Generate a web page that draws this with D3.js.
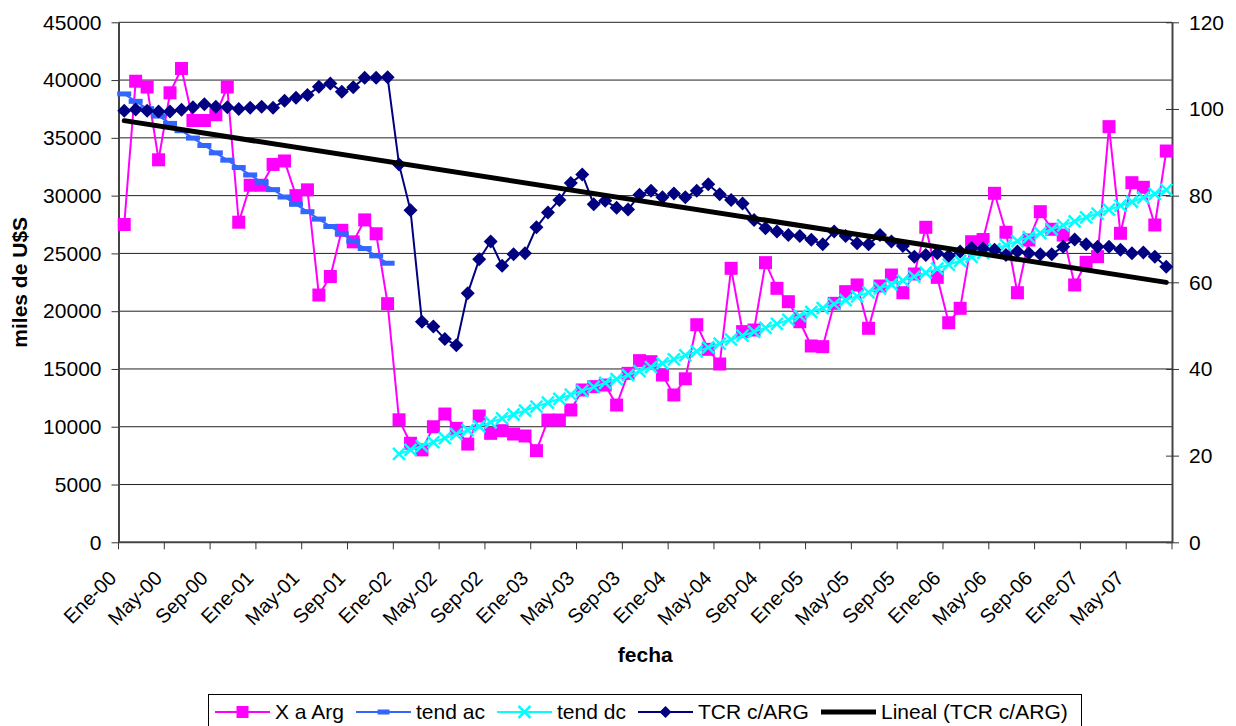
<!DOCTYPE html>
<html>
<head>
<meta charset="utf-8">
<script src="https://cdn.jsdelivr.net/npm/d3@7"></script>
<style>
  body { margin: 0; background: #fff; }
  text { font-family: "Liberation Sans", Arial, sans-serif; }
</style>
</head>
<body>
<svg id="chart" width="1236" height="726"></svg>
<script>
// etiquetas del eje x (cada 4 meses)
const tickLabels = ['Ene-00','May-00','Sep-00','Ene-01','May-01','Sep-01','Ene-02','May-02','Sep-02',
  'Ene-03','May-03','Sep-03','Ene-04','May-04','Sep-04','Ene-05','May-05','Sep-05',
  'Ene-06','May-06','Sep-06','Ene-07','May-07'];

// X a Arg (miles de U$S), ene-00 .. ago-07
const xArg = [27500, 39900, 39400, 33100, 38900, 41000, 36500, 36500, 37000, 39400,
  27700, 30900, 30900, 32700, 33000, 30000, 30500, 21400, 23000, 27000,
  26000, 27900, 26700, 20650, 10600, 8570, 8000, 10000, 11100, 9860,
  8500, 10930, 9430, 9660, 9370, 9200, 7930, 10580, 10580, 11450,
  13180, 13470, 13610, 11880, 14620, 15720, 15630, 14480, 12750, 14150,
  18830, 16700, 15430, 23710, 18230, 18370, 24200, 21980, 20820, 19090,
  16990, 16930, 20680, 21690, 22270, 18520, 22180, 23130, 21600, 23220,
  27260, 22930, 19000, 20250, 26010, 26200, 30200, 26830, 21600, 26160,
  28610, 27090, 26590, 22270, 24230, 24720, 35970, 26740, 31120, 30720,
  27460, 33860];

// tendencia antes de la crisis (desde ene-00)
const tendAc = [38800, 38160, 37530, 36890, 36250, 35620, 34980, 34340, 33700, 33070,
  32430, 31790, 31160, 30520, 29880, 29250, 28610, 27970, 27330, 26700,
  26060, 25420, 24790, 24150];

// tendencia despues de la crisis (desde ene-02)
const tendDcStart = 24;
const tendDc = [7650, 7990, 8330, 8670, 9010, 9360, 9700, 10040, 10380, 10720,
  11060, 11400, 11740, 12080, 12420, 12770, 13110, 13450, 13790, 14130,
  14470, 14810, 15150, 15490, 15830, 16180, 16520, 16860, 17200, 17540,
  17880, 18220, 18560, 18900, 19240, 19590, 19930, 20270, 20610, 20950,
  21290, 21630, 21970, 22310, 22650, 23000, 23340, 23680, 24020, 24360,
  24700, 25040, 25380, 25720, 26060, 26410, 26750, 27090, 27430, 27770,
  28110, 28450, 28790, 29130, 29470, 29820, 30160, 30500];

// TCR c/ARG (eje derecho)
const tcr = [99.6, 99.9, 99.6, 99.4, 99.4, 99.8, 100.4, 101.1, 100.5, 100.4,
  100.0, 100.3, 100.5, 100.3, 101.9, 102.6, 103.2, 105.1, 105.9, 104.0,
  105.0, 107.2, 107.2, 107.3, 87.2, 76.6, 50.9, 49.8, 46.9, 45.5,
  57.5, 65.3, 69.4, 63.8, 66.5, 66.7, 72.7, 76.1, 79.0, 82.9,
  84.9, 78.0, 78.8, 77.2, 76.8, 80.2, 81.1, 79.6, 80.5, 79.6,
  81.1, 82.6, 80.3, 79.0, 78.2, 74.4, 72.5, 71.7, 70.9, 70.7,
  69.8, 68.8, 71.7, 70.7, 69.0, 68.8, 70.9, 69.4, 68.4, 65.9,
  66.3, 66.7, 66.1, 67.1, 67.9, 67.8, 67.5, 66.3, 67.1, 66.7,
  66.5, 66.5, 68.2, 69.9, 68.8, 68.2, 68.2, 67.5, 66.7, 66.9,
  65.9, 63.6];

const plotLeft = 118.5, plotRight = 1172, plotTop = 22.3, plotBottom = 542.3;
const n = xArg.length;

const svg = d3.select('#chart');
svg.append('rect').attr('width', 1236).attr('height', 726).attr('fill', '#fff');

const x = d3.scaleLinear().domain([0, n]).range([plotLeft, plotRight]);
const y = d3.scaleLinear().domain([0, 45000]).range([plotBottom, plotTop]);
const y2 = d3.scaleLinear().domain([0, 120]).range([plotBottom, plotTop]);
const cx = i => x(i + 0.5);

// grid
svg.append('g').selectAll('line')
  .data(d3.range(5000, 45001, 5000))
  .enter().append('line')
  .attr('x1', plotLeft).attr('x2', plotRight)
  .attr('y1', d => y(d)).attr('y2', d => y(d))
  .attr('stroke', '#222').attr('stroke-width', 1);

// left axis
const yAxis = d3.axisLeft(y).tickValues(d3.range(0, 45001, 5000))
  .tickSize(7).tickSizeOuter(0).tickPadding(10).tickFormat(d3.format('d'));
svg.append('g').attr('transform', `translate(${plotLeft},0)`).call(yAxis)
  .call(g => g.select('.domain').attr('stroke', '#444').attr('stroke-width', 2))
  .call(g => g.selectAll('.tick line').attr('stroke', '#333'))
  .call(g => g.selectAll('text').attr('font-size', 21).attr('fill', '#000')
    .style('font-family', '"Liberation Sans", Arial, sans-serif'));

// right axis
const y2Axis = d3.axisRight(y2).tickValues(d3.range(0, 121, 20))
  .tickSize(7).tickSizeOuter(0).tickPadding(10);
svg.append('g').attr('transform', `translate(${plotRight},0)`).call(y2Axis)
  .call(g => g.select('.domain').attr('stroke', '#444').attr('stroke-width', 2))
  .call(g => g.selectAll('.tick line').attr('x1', -6).attr('stroke', '#333'))
  .call(g => g.selectAll('text').attr('font-size', 21).attr('fill', '#000')
    .style('font-family', '"Liberation Sans", Arial, sans-serif'));

// x axis
const xg = svg.append('g');
xg.append('line').attr('x1', plotLeft).attr('x2', plotRight).attr('y1', plotBottom).attr('y2', plotBottom)
  .attr('stroke', '#444').attr('stroke-width', 2);
xg.selectAll('.xt').data(d3.range(0, n + 1, 4)).enter().append('line')
  .attr('x1', d => x(d)).attr('x2', d => x(d))
  .attr('y1', plotBottom).attr('y2', plotBottom + 7)
  .attr('stroke', '#333');
xg.selectAll('.xl').data(tickLabels).enter().append('text')
  .attr('transform', (d, i) => `translate(${x(i * 4) - 1},${plotBottom + 37}) rotate(-45)`)
  .attr('text-anchor', 'end')
  .attr('font-size', 20)
  .text(d => d);

// axis titles
svg.append('text').attr('x', (plotLeft + plotRight) / 2).attr('y', 662)
  .attr('text-anchor', 'middle').attr('font-size', 21).attr('font-weight', 'bold')
  .text('fecha');
svg.append('text').attr('transform', `translate(27,${(plotTop + plotBottom) / 2}) rotate(-90)`)
  .attr('text-anchor', 'middle').attr('font-size', 21).attr('font-weight', 'bold')
  .text('miles de U$S');

// series
const line = d3.line();

svg.append('path')
  .attr('d', line(xArg.map((v, i) => [cx(i), y(v)])))
  .attr('fill', 'none').attr('stroke', '#ff00ff').attr('stroke-width', 2);
svg.append('g').selectAll('rect').data(xArg).enter().append('rect')
  .attr('x', (d, i) => cx(i) - 6.5).attr('y', d => y(d) - 6.5)
  .attr('width', 13).attr('height', 13).attr('fill', '#ff00ff');

svg.append('path')
  .attr('d', line(tendAc.map((v, i) => [cx(i), y(v)])))
  .attr('fill', 'none').attr('stroke', '#3366ff').attr('stroke-width', 2);
svg.append('g').selectAll('rect').data(tendAc).enter().append('rect')
  .attr('x', (d, i) => cx(i) - 7).attr('y', d => y(d) - 2.5)
  .attr('width', 14).attr('height', 5).attr('fill', '#3366ff');

svg.append('path')
  .attr('d', line(tendDc.map((v, i) => [cx(i + tendDcStart), y(v)])))
  .attr('fill', 'none').attr('stroke', '#00ffff').attr('stroke-width', 2);
svg.append('g').selectAll('path').data(tendDc).enter().append('path')
  .attr('d', (d, i) => {
    const px = cx(i + tendDcStart), py = y(d), s = 6;
    return `M${px - s},${py - s}L${px + s},${py + s}M${px - s},${py + s}L${px + s},${py - s}`;
  })
  .attr('stroke', '#00ffff').attr('stroke-width', 2.5);

svg.append('path')
  .attr('d', line(tcr.map((v, i) => [cx(i), y2(v)])))
  .attr('fill', 'none').attr('stroke', '#000080').attr('stroke-width', 2);
svg.append('g').selectAll('path').data(tcr).enter().append('path')
  .attr('d', (d, i) => {
    const px = cx(i), py = y2(d), s = 7;
    return `M${px},${py - s}L${px + s},${py}L${px},${py + s}L${px - s},${py}Z`;
  })
  .attr('fill', '#000080');

// linea de tendencia lineal (minimos cuadrados sobre TCR)
const idx = d3.range(n);
const mx = d3.mean(idx), my = d3.mean(tcr);
const slope = d3.sum(idx, i => (i - mx) * (tcr[i] - my)) / d3.sum(idx, i => (i - mx) * (i - mx));
const icpt = my - slope * mx;
svg.append('line')
  .attr('x1', cx(0)).attr('y1', y2(icpt))
  .attr('x2', cx(n - 1)).attr('y2', y2(icpt + slope * (n - 1)))
  .attr('stroke', '#000').attr('stroke-width', 5).attr('stroke-linecap', 'round');

// legend
const lg = svg.append('g');
lg.append('rect').attr('x', 208.5).attr('y', 694.5).attr('width', 873).attr('height', 40)
  .attr('fill', '#fff').attr('stroke', '#000').attr('stroke-width', 1);
const items = [
  {name: 'X a Arg', x0: 215, x1: 270, color: '#ff00ff', mark: 'square'},
  {name: 'tend ac', x0: 356, x1: 411, color: '#3366ff', mark: 'dash'},
  {name: 'tend dc', x0: 497, x1: 552, color: '#00ffff', mark: 'x'},
  {name: 'TCR c/ARG', x0: 638, x1: 693, color: '#000080', mark: 'diamond'},
  {name: 'Lineal (TCR c/ARG)', x0: 821, x1: 876, color: '#000', mark: 'none'}
];
const ly = 712;
items.forEach(it => {
  const g = lg.append('g');
  const mid = (it.x0 + it.x1) / 2;
  g.append('line').attr('x1', it.x0).attr('x2', it.x1).attr('y1', ly).attr('y2', ly)
    .attr('stroke', it.color).attr('stroke-width', it.mark === 'none' ? 5 : 2);
  if (it.mark === 'square') g.append('rect').attr('x', mid - 6).attr('y', ly - 6).attr('width', 12).attr('height', 12).attr('fill', it.color);
  if (it.mark === 'dash') g.append('rect').attr('x', mid - 6).attr('y', ly - 2.5).attr('width', 12).attr('height', 5).attr('fill', it.color);
  if (it.mark === 'x') g.append('path').attr('d', `M${mid - 6},${ly - 6}L${mid + 6},${ly + 6}M${mid - 6},${ly + 6}L${mid + 6},${ly - 6}`)
    .attr('stroke', it.color).attr('stroke-width', 2.5);
  if (it.mark === 'diamond') g.append('path').attr('d', `M${mid},${ly - 6}L${mid + 6},${ly}L${mid},${ly + 6}L${mid - 6},${ly}Z`).attr('fill', it.color);
  g.append('text').attr('x', it.x1 + 5).attr('y', ly + 7).attr('font-size', 21).text(it.name);
});
</script>
</body>
</html>
